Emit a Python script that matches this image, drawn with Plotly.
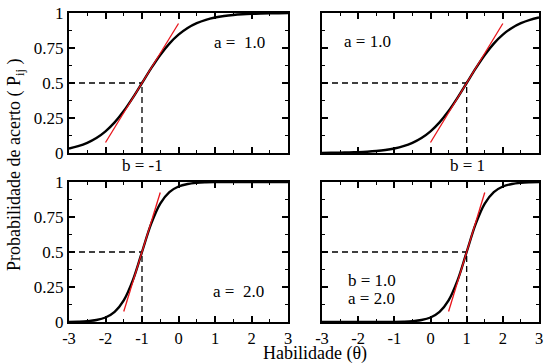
import plotly.graph_objects as go

# ---- data ----
theta = [-3 + 0.25 * i for i in range(25)]

p_a1_bm1 = [0.0323, 0.0486, 0.0724, 0.1067, 0.1545, 0.2184, 0.2994, 0.3953, 0.5,
            0.6047, 0.7006, 0.7816, 0.8455, 0.8933, 0.9276, 0.9514, 0.9677, 0.9787,
            0.9859, 0.9908, 0.9939, 0.9960, 0.9974, 0.9983, 0.9989]
p_a1_b1 = [0.0011, 0.0017, 0.0026, 0.0040, 0.0061, 0.0092, 0.0141, 0.0213, 0.0323,
           0.0486, 0.0724, 0.1067, 0.1545, 0.2184, 0.2994, 0.3953, 0.5, 0.6047,
           0.7006, 0.7816, 0.8455, 0.8933, 0.9276, 0.9514, 0.9677]
p_a2_bm1 = [0.0011, 0.0026, 0.0061, 0.0141, 0.0323, 0.0724, 0.1545, 0.2994, 0.5,
            0.7006, 0.8455, 0.9276, 0.9677, 0.9859, 0.9939, 0.9974, 0.9989, 0.9995,
            0.9998, 0.9999, 1.0, 1.0, 1.0, 1.0, 1.0]
p_a2_b1 = [0.0, 0.0, 0.0, 0.0, 0.0, 0.0001, 0.0002, 0.0005, 0.0011, 0.0026, 0.0061,
           0.0141, 0.0323, 0.0724, 0.1545, 0.2994, 0.5, 0.7006, 0.8455, 0.9276,
           0.9677, 0.9859, 0.9939, 0.9974, 0.9989]

b_vals = [-1, 1, -1, 1]
tangent_x = [[-2, 0], [0, 2], [-1.5, -0.5], [0.5, 1.5]]
tangent_y = [[0.075, 0.925], [0.075, 0.925], [0.075, 0.925], [0.075, 0.925]]
curves = [p_a1_bm1, p_a1_b1, p_a2_bm1, p_a2_b1]

x_ticks = [-3, -2, -1, 0, 1, 2, 3]
x_ticktext = ["-3", "-2", "-1", "0", "1", "2", "3"]
y_ticks = [0, 0.25, 0.5, 0.75, 1]
y_ticktext = ["0", "0.25", "0.5", "0.75", "1"]

FONT = "Liberation Serif, Times New Roman, serif"

fig = go.Figure()

axes = [("x", "y"), ("x2", "y2"), ("x3", "y3"), ("x4", "y4")]
for i, (xa, ya) in enumerate(axes):
    b = b_vals[i]
    # dashed guide lines
    fig.add_trace(go.Scatter(x=[-3, b], y=[0.5, 0.5], mode="lines", xaxis=xa, yaxis=ya,
                             line=dict(color="black", width=1.3, dash="6px,4px"),
                             showlegend=False, hoverinfo="skip"))
    fig.add_trace(go.Scatter(x=[b, b], y=[0, 0.5], mode="lines", xaxis=xa, yaxis=ya,
                             line=dict(color="black", width=1.3, dash="6px,4px"),
                             showlegend=False, hoverinfo="skip"))
    # ICC curve
    fig.add_trace(go.Scatter(x=theta, y=curves[i], mode="lines", xaxis=xa, yaxis=ya,
                             line=dict(color="black", width=2.4, shape="spline"),
                             showlegend=False))
    # tangent
    fig.add_trace(go.Scatter(x=tangent_x[i], y=tangent_y[i], mode="lines", xaxis=xa, yaxis=ya,
                             line=dict(color="#e8141a", width=1.3),
                             showlegend=False))

W, H = 546, 363
xd_left = [69 / W, 288 / W]
xd_right = [322 / W, 539 / W]
yd_top = [1 - 153 / H, 1 - 13 / H]
yd_bot = [1 - 322 / H, 1 - 182 / H]

def xaxis(domain, anchor, labels):
    return dict(domain=domain, anchor=anchor, range=[-3, 3], tickvals=x_ticks, ticktext=x_ticktext,
                showticklabels=labels, ticks="inside", ticklen=6, tickwidth=1.5, tickcolor="black",
                minor=dict(dtick=0.5, tick0=0, ticks="inside", ticklen=3, tickwidth=1.2, tickcolor="black"),
                showline=True, linewidth=2, linecolor="black", mirror="ticks", showgrid=False,
                zeroline=False, automargin=False,
                tickfont=dict(family=FONT, size=16.5, color="black"))

def yaxis(domain, anchor, labels):
    return dict(domain=domain, anchor=anchor, range=[0, 1], tickvals=y_ticks, ticktext=y_ticktext,
                showticklabels=labels, ticks="inside", ticklen=6, tickwidth=1.5, tickcolor="black",
                minor=dict(dtick=0.125, tick0=0, ticks="inside", ticklen=3, tickwidth=1.2, tickcolor="black"),
                showline=True, linewidth=2, linecolor="black", mirror="ticks", showgrid=False,
                zeroline=False, automargin=False,
                tickfont=dict(family=FONT, size=17, color="black"))

fig.update_layout(
    width=W, height=H, margin=dict(l=0, r=0, t=0, b=0, autoexpand=False),
    paper_bgcolor="white", plot_bgcolor="white",
    font=dict(family=FONT, color="black"),
    xaxis=xaxis(xd_left, "y", False), yaxis=yaxis(yd_top, "x", True),
    xaxis2=xaxis(xd_right, "y2", False), yaxis2=yaxis(yd_top, "x2", False),
    xaxis3=xaxis(xd_left, "y3", True), yaxis3=yaxis(yd_bot, "x3", True),
    xaxis4=xaxis(xd_right, "y4", True), yaxis4=yaxis(yd_bot, "x4", False),
)

ann_font = dict(family=FONT, size=17, color="black")
annotations = [
    dict(x=1.68, y=0.79, xref="x", yref="y", text="a = \u00a01.0"),
    dict(x=142 / W, y=1 - 166 / H, xref="paper", yref="paper", text="b = -1"),
    dict(x=-1.73, y=0.80, xref="x2", yref="y2", text="a = 1.0"),
    dict(x=467 / W, y=1 - 166 / H, xref="paper", yref="paper", text="b = 1"),
    dict(x=1.63, y=0.215, xref="x3", yref="y3", text="a = \u00a02.0"),
    dict(x=-1.62, y=0.30, xref="x4", yref="y4", text="b = 1.0"),
    dict(x=-1.62, y=0.17, xref="x4", yref="y4", text="a = 2.0"),
    dict(x=15 / W, y=1 - 165 / H, xref="paper", yref="paper", textangle=-90,
         text="Probabilidade de acerto ( P<sub>ij</sub> )", font=dict(family=FONT, size=18, color="black")),
    dict(x=315 / W, y=1 - 353.5 / H, xref="paper", yref="paper", borderpad=0,
         text="Habilidade (\u03b8)", font=dict(family=FONT, size=18, color="black")),
]
for a in annotations:
    a.setdefault("font", ann_font)
    a["showarrow"] = False
    a["xanchor"] = "center"
    a["yanchor"] = "middle"
    fig.add_annotation(**a)

fig.write_html("out.html", config={"displayModeBar": False},
               post_script="document.body.style.margin='0';")
